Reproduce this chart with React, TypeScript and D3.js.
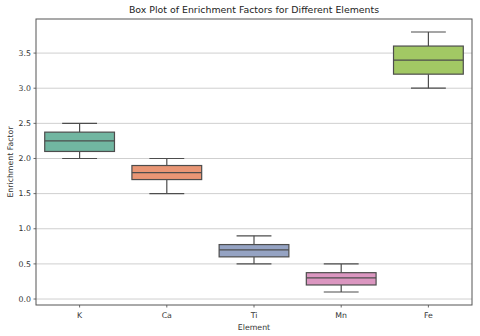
import * as d3 from 'd3';

const elements = ['K', 'Ca', 'Ti', 'Mn', 'Fe'];
const whiskerLow = [2.0, 1.5, 0.5, 0.1, 3.0];
const q1 = [2.1, 1.7, 0.6, 0.2, 3.2];
const medians = [2.25, 1.8, 0.7, 0.3, 3.4];
const q3 = [2.375, 1.9, 0.775, 0.375, 3.6];
const whiskerHigh = [2.5, 2.0, 0.9, 0.5, 3.8];
const yTicks = [0.0, 0.5, 1.0, 1.5, 2.0, 2.5, 3.0, 3.5];
const colors = ['#71b6a1', '#e99675', '#95a3c3', '#db96c0', '#a2c864'];

const W = 480;
const H = 336;
const margin = { top: 19, right: 8, bottom: 31, left: 36 };
const font = 'DejaVu Sans, sans-serif';
const lineColor = '#4d4d4d';

const App = () => {
  const plotW = W - margin.left - margin.right;
  const plotH = H - margin.top - margin.bottom;

  const x = d3.scaleBand().domain(elements).range([0, plotW]).paddingInner(0).paddingOuter(0);
  const lo = d3.min(whiskerLow)!;
  const hi = d3.max(whiskerHigh)!;
  const pad = (hi - lo) * 0.05;
  const y = d3.scaleLinear().domain([lo - pad, hi + pad]).range([plotH, 0]);

  const boxW = x.bandwidth() * 0.8;
  const capW = boxW / 2;

  return (
    <svg width={W} height={H} style={{ position: 'absolute', left: 0, top: 0, background: '#fff' }}>
      <text x={margin.left + plotW / 2} y={12.5} textAnchor="middle" fontFamily={font} fontSize={9.4} fill="#222">
        Box Plot of Enrichment Factors for Different Elements
      </text>
      <g transform={`translate(${margin.left},${margin.top})`}>
        {yTicks.map(t => (
          <g key={t}>
            <line x1={0} x2={plotW} y1={y(t)} y2={y(t)} stroke="#cfcfcf" strokeWidth={1} />
            <line x1={-2.5} x2={0} y1={y(t)} y2={y(t)} stroke="#444" strokeWidth={0.8} />
            <text x={-5} y={y(t)} dy="0.35em" textAnchor="end" fontFamily={font} fontSize={7.8} fill="#333">
              {t.toFixed(1)}
            </text>
          </g>
        ))}
        {elements.map((e, i) => {
          const cx = x(e)! + x.bandwidth() / 2;
          return (
            <g key={e}>
              <line x1={cx} x2={cx} y1={y(whiskerLow[i])} y2={y(q1[i])} stroke={lineColor} strokeWidth={1.2} />
              <line x1={cx} x2={cx} y1={y(q3[i])} y2={y(whiskerHigh[i])} stroke={lineColor} strokeWidth={1.2} />
              <line x1={cx - capW / 2} x2={cx + capW / 2} y1={y(whiskerLow[i])} y2={y(whiskerLow[i])} stroke={lineColor} strokeWidth={1.2} />
              <line x1={cx - capW / 2} x2={cx + capW / 2} y1={y(whiskerHigh[i])} y2={y(whiskerHigh[i])} stroke={lineColor} strokeWidth={1.2} />
              <rect x={cx - boxW / 2} y={y(q3[i])} width={boxW} height={y(q1[i]) - y(q3[i])} fill={colors[i]} stroke={lineColor} strokeWidth={1.2} />
              <line x1={cx - boxW / 2} x2={cx + boxW / 2} y1={y(medians[i])} y2={y(medians[i])} stroke={lineColor} strokeWidth={1.2} />
              <line x1={cx} x2={cx} y1={plotH} y2={plotH + 2.5} stroke="#444" strokeWidth={0.8} />
              <text x={cx} y={plotH + 13} textAnchor="middle" fontFamily={font} fontSize={7.8} fill="#333">
                {e}
              </text>
            </g>
          );
        })}
        <rect x={0} y={0} width={plotW} height={plotH} fill="none" stroke="#555" strokeWidth={1} />
        <text x={plotW / 2} y={plotH + 25} textAnchor="middle" fontFamily={font} fontSize={7.8} fill="#333">
          Element
        </text>
        <text transform={`translate(${-23},${plotH / 2}) rotate(-90)`} textAnchor="middle" fontFamily={font} fontSize={7.8} fill="#333">
          Enrichment Factor
        </text>
      </g>
    </svg>
  );
};

export default App;
